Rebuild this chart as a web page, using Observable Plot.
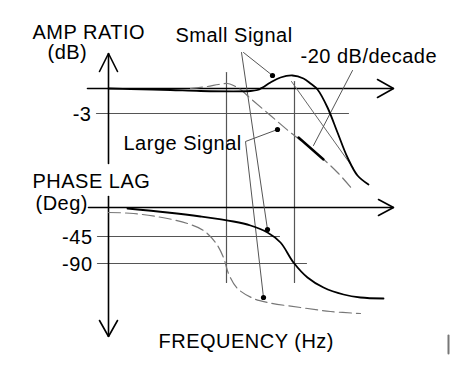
<!DOCTYPE html>
<html><head><meta charset="utf-8">
<script src="https://cdn.jsdelivr.net/npm/d3@7"></script>
<script src="https://cdn.jsdelivr.net/npm/@observablehq/plot@0.6"></script>
<style>body{margin:0;background:#fff} svg{font-family:"Liberation Sans",Arial,sans-serif;}</style>
</head><body><div id="chart"></div>
<script>
// Schematic drawing units (frequency axis to the right, response downward)
const smallAmp = [[108,88],[130,88.5],[170,89.5],[200,90.5],[250,90.5],[257,89.5],[262,87],[270,82],[280,77],[292,75],[303,78],[310,83],[317,89],[327,107],[337,132],[347,157],[357,175],[368,184]];
const largeAmp = [[190,88],[207,86],[218,84],[227,83],[233,85],[240,89],[249,97],[270,115],[290,132],[313,150],[337,172],[352,189]];
const smallPhase = [[127,208],[167,212],[200,216],[233,221],[250,225],[267,232],[280,242],[293,262],[307,277],[323,287],[343,294],[360,297],[383,298]];
const largePhase = [[108,212],[133,213],[167,218],[187,223],[203,230],[215,242],[223,257],[228,273],[237,288],[253,298],[267,302],[300,307],[330,311],[360,313]];
const asymptote = [[291,81],[353,168]];
const slopeMark = [[298,137],[323,159]];
const markerDots = [[272,75],[267,229],[277,129],[263,297]];
const leaders = [
  [[243,52],[272,75]],
  [[241,52],[267,229]],
  [[277,129],[245,141],[263,297]],
  [[352,70],[313,145]]
];
const axesLines = [
  [[108,163],[108,53]], [[99,71],[108,53],[117,71]],
  [[87,88],[393,88]], [[377,79],[393,88],[377,97]],
  [[108,196],[108,336]], [[99,320],[108,336],[117,320]],
  [[88,207],[393,207]], [[378,199],[393,207],[378,215]]
];
const refLines = [
  [[96,113],[348,113]], [[97,236],[279,236]], [[97,263],[306,263]],
  [[226,72],[226,282]], [[294,81],[294,282]]
];
const cornerBar = [[448,335],[448,353]];
const tickLabels = [["-3",91,120],["-45",92,243],["-90",92,270]];
const titleLabels = [
  ["AMP RATIO",32,38],["(dB)",47,58],["Small Signal",175,41],["-20 dB/decade",300,62],
  ["Large Signal",123,149],["PHASE LAG",32,187],["(Deg)",35,209],["FREQUENCY (Hz)",158,347]
];

const seg = (arr) => arr.flatMap((pts,i)=>pts.map(p=>({x:p[0],y:p[1],g:i})));
const pts = (arr) => arr.map(p=>({x:p[0],y:p[1]}));

const chart = Plot.plot({
  width:450, height:371, margin:0,
  x:{domain:[0,450], range:[0,450], axis:null},
  y:{domain:[0,371], range:[0,371], axis:null},
  style:{background:"#fff", fontFamily:"'Liberation Sans',Arial,sans-serif"},
  marks:[
    Plot.line(seg(refLines), {x:"x", y:"y", z:"g", stroke:"#555", strokeWidth:1.2}),
    Plot.line(seg(axesLines), {x:"x", y:"y", z:"g", stroke:"#000", strokeWidth:1.6, strokeLinejoin:"miter"}),
    Plot.line(pts(asymptote), {x:"x", y:"y", stroke:"#666", strokeWidth:1}),
    Plot.line(seg(leaders), {x:"x", y:"y", z:"g", stroke:"#555", strokeWidth:1}),
    Plot.line(pts(largeAmp), {x:"x", y:"y", stroke:"#777", strokeWidth:1.2, strokeDasharray:"12,5", curve:"catmull-rom"}),
    Plot.line(pts(largePhase), {x:"x", y:"y", stroke:"#777", strokeWidth:1.2, strokeDasharray:"12,5", curve:"catmull-rom"}),
    Plot.line(pts(smallAmp), {x:"x", y:"y", stroke:"#000", strokeWidth:1.8, curve:"catmull-rom"}),
    Plot.line(pts(smallPhase), {x:"x", y:"y", stroke:"#000", strokeWidth:1.8, curve:"catmull-rom"}),
    Plot.line(pts(slopeMark), {x:"x", y:"y", stroke:"#000", strokeWidth:2.4}),
    Plot.dot(pts(markerDots), {x:"x", y:"y", r:2.6, fill:"#000", stroke:"none"}),
    Plot.line(pts(cornerBar), {x:"x", y:"y", stroke:"#777", strokeWidth:2}),
    Plot.text(tickLabels, {x:d=>d[1], y:d=>d[2], text:d=>d[0], textAnchor:"end", lineAnchor:"bottom", fontSize:20, fill:"#000"}),
    Plot.text(titleLabels, {x:d=>d[1], y:d=>d[2], text:d=>d[0], textAnchor:"start", lineAnchor:"bottom", fontSize:20, fill:"#000"})
  ]
});
chart.querySelectorAll("text").forEach(t=>t.style.letterSpacing="0.5px");
document.getElementById("chart").append(chart);
</script>
</body></html>
